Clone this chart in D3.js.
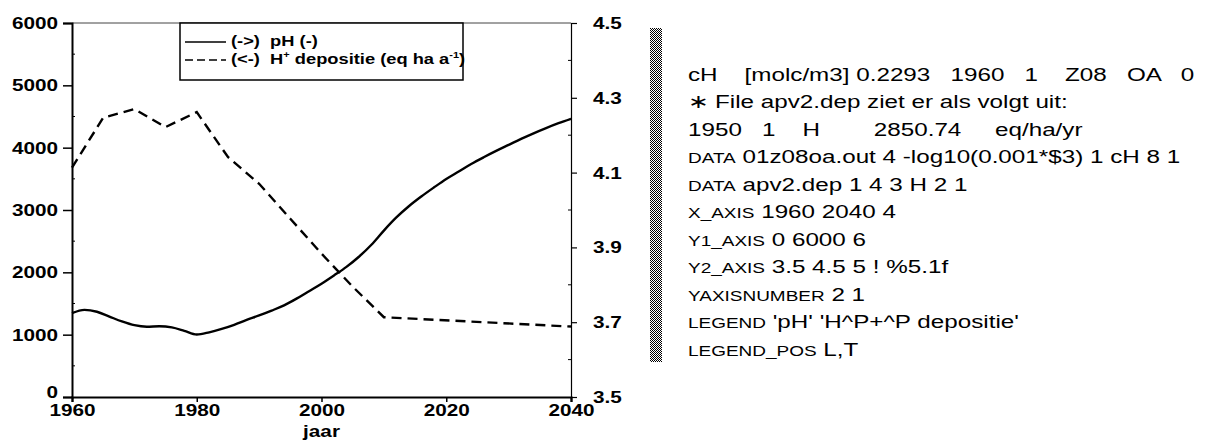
<!DOCTYPE html>
<html>
<head>
<meta charset="utf-8">
<script src="https://d3js.org/d3.v7.min.js"></script>
<style>
  html, body { margin: 0; padding: 0; background: #fff; }
  svg { display: block; }
  text { font-family: "Liberation Sans", Arial, sans-serif; fill: #000; }
</style>
</head>
<body>
<svg id="chart" width="1208" height="441"></svg>
<script>
// H+ deposition (left axis, eq ha-1 a-1)
const depYears  = [1960, 1965, 1970, 1975, 1980, 1985, 1990, 1995, 2000, 2005, 2010, 2040];
const depValues = [3680, 4480, 4620, 4330, 4570, 3850, 3420, 2860, 2300, 1770, 1280, 1130];

// pH of soil solution (right axis)
const phYears = d3.range(1960, 2041, 2);
const phValues = [3.724, 3.733, 3.728, 3.715, 3.702, 3.692, 3.688, 3.689, 3.686, 3.677,
                  3.667, 3.673, 3.682, 3.693, 3.706, 3.718, 3.731, 3.745, 3.763, 3.783,
                  3.803, 3.825, 3.848, 3.875, 3.907, 3.945, 3.980, 4.010, 4.036, 4.060,
                  4.083, 4.103, 4.123, 4.141, 4.158, 4.174, 4.190, 4.205, 4.219, 4.232, 4.244];

// axis ticks
const xTicks = [1960, 1980, 2000, 2020, 2040];
const yLeftTicks = [0, 1000, 2000, 3000, 4000, 5000, 6000];
const yRightTicks = [3.5, 3.7, 3.9, 4.1, 4.3, 4.5];

// legend entries
const legendLabels = ["(->)  pH (-)", "(<-)  H"];

// command file listing shown beside the graph
const listing = [
  [null, "cH    [molc/m3] 0.2293   1960   1    Z08   OA   0"],
  [null, "\u2217 File apv2.dep ziet er als volgt uit:"],
  [null, "1950   1    H        2850.74     eq/ha/yr"],
  ["DATA", " 01z08oa.out 4 -log10(0.001*$3) 1 cH 8 1"],
  ["DATA", " apv2.dep 1 4 3 H 2 1"],
  ["X_AXIS", " 1960 2040 4"],
  ["Y1_AXIS", " 0 6000 6"],
  ["Y2_AXIS", " 3.5 4.5 5 ! %5.1f"],
  ["YAXISNUMBER", " 2 1"],
  ["LEGEND", " 'pH' 'H^P+^P depositie'"],
  ["LEGEND_POS", " L,T"]
];

const SX = 1.22;              // glyphs are drawn a little wide
const SXT = 1.31;             // listing glyphs are wider still
const svg = d3.select("#chart");
const X0 = 72, X1 = 571, Y0 = 23, Y1 = 397;

const x = d3.scaleLinear().domain([1960, 2040]).range([X0, X1]);
const yL = d3.scaleLinear().domain([0, 6000]).range([Y1, Y0]);
const yR = d3.scaleLinear().domain([3.5, 4.5]).range([Y1, Y0]);

function stretch(sel) {
  sel.each(function () {
    const t = d3.select(this);
    const tx = +t.attr("x") || 0;
    t.attr("x", tx / SX).attr("transform", `scale(${SX},1)`);
  });
}

// top border (faint)
svg.append("line").attr("x1", X0).attr("x2", X1).attr("y1", Y0).attr("y2", Y0)
  .attr("stroke", "#444").attr("stroke-width", 1);

// left axis
const gL = svg.append("g").attr("transform", `translate(${X0},0)`)
  .call(d3.axisLeft(yL).tickValues(yLeftTicks).tickSize(9).tickPadding(5).tickFormat(d3.format("d")));
gL.select(".domain").attr("stroke-width", 2);
gL.selectAll(".tick line").attr("stroke-width", 1.5);
gL.selectAll(".tick text").attr("font-size", 17).attr("font-weight", "bold")
  .attr("font-family", "Liberation Sans, Arial, sans-serif").call(stretch);
gL.selectAll(".tick").filter(d => d === 0).select("text").attr("dy", "0.05em");

// right axis
const gR = svg.append("g").attr("transform", `translate(${X1},0)`)
  .call(d3.axisRight(yR).tickValues(yRightTicks).tickSize(6).tickPadding(16).tickFormat(d3.format(".1f")));
gR.select(".domain").attr("stroke-width", 1.2);
gR.selectAll(".tick line").attr("stroke-width", 1.2);
gR.selectAll(".tick text").attr("font-size", 17).attr("font-weight", "bold")
  .attr("font-family", "Liberation Sans, Arial, sans-serif").call(stretch);

// bottom axis
const gB = svg.append("g").attr("transform", `translate(0,${Y1})`)
  .call(d3.axisBottom(x).tickValues(xTicks).tickSize(5).tickPadding(2).tickFormat(d3.format("d")));
gB.select(".domain").attr("stroke-width", 2.2);
gB.selectAll(".tick line").attr("stroke-width", 1.5);
gB.selectAll(".tick text").attr("font-size", 17).attr("font-weight", "bold")
  .attr("font-family", "Liberation Sans, Arial, sans-serif").call(stretch);

// minor ticks
const minorL = d3.range(500, 6000, 1000);
svg.append("g").selectAll("line").data(minorL).join("line")
  .attr("x1", X0).attr("x2", X0 + 3).attr("y1", d => yL(d)).attr("y2", d => yL(d))
  .attr("stroke", "#000").attr("stroke-width", 1);
const minorR = [3.6, 3.8, 4.0, 4.2, 4.4];
svg.append("g").selectAll("line").data(minorR).join("line")
  .attr("x1", X1 - 3).attr("x2", X1).attr("y1", d => yR(d)).attr("y2", d => yR(d))
  .attr("stroke", "#000").attr("stroke-width", 1);

// x axis title
svg.append("text").attr("transform", `translate(${x(2000)},437) scale(${SX},1)`)
  .attr("text-anchor", "middle").attr("font-size", 17).attr("font-weight", "bold").text("jaar");

// deposition (dashed, left axis)
const depLine = d3.line().x(d => x(d[0])).y(d => yL(d[1]));
svg.append("path").datum(depYears.map((yr, i) => [yr, depValues[i]]))
  .attr("d", depLine).attr("fill", "none").attr("stroke", "#000")
  .attr("stroke-width", 2.4).attr("stroke-dasharray", "10,6");

// pH (solid, right axis)
const phLine = d3.line().curve(d3.curveMonotoneX).x(d => x(d[0])).y(d => yR(d[1]));
svg.append("path").datum(phYears.map((yr, i) => [yr, phValues[i]]))
  .attr("d", phLine).attr("fill", "none").attr("stroke", "#000").attr("stroke-width", 2.4);

// legend box
const LX = 180, LY = 23, LW = 283, LH = 57;
svg.append("rect").attr("x", LX).attr("y", LY).attr("width", LW).attr("height", LH)
  .attr("fill", "#fff").attr("stroke", "#000").attr("stroke-width", 1.5);
const rows = [46, 64];
svg.append("line").attr("x1", LX + 5).attr("x2", LX + 46).attr("y1", rows[0] - 4).attr("y2", rows[0] - 4)
  .attr("stroke", "#000").attr("stroke-width", 1.5);
svg.append("line").attr("x1", LX + 5).attr("x2", LX + 46).attr("y1", rows[1] - 4).attr("y2", rows[1] - 4)
  .attr("stroke", "#000").attr("stroke-width", 1.5).attr("stroke-dasharray", "8,4");
svg.append("text").attr("transform", `translate(${LX + 51},${rows[0]}) scale(${SX},1)`)
  .attr("font-size", 15).attr("font-weight", "bold").style("white-space", "pre").text(legendLabels[0]);
const t2 = svg.append("text").attr("transform", `translate(${LX + 51},${rows[1]}) scale(${SX},1)`)
  .attr("font-size", 15).attr("font-weight", "bold").style("white-space", "pre");
t2.append("tspan").text(legendLabels[1]);
t2.append("tspan").attr("font-size", 9).attr("dy", -6).text("+");
t2.append("tspan").attr("dy", 6).text(" depositie (eq ha a");
t2.append("tspan").attr("font-size", 9).attr("dy", -6).text("-1");
t2.append("tspan").attr("dy", 6).text(")");

// checkered separator strip
const defs = svg.append("defs");
const pat = defs.append("pattern").attr("id", "checker").attr("patternUnits", "userSpaceOnUse")
  .attr("width", 2).attr("height", 2);
pat.append("rect").attr("width", 2).attr("height", 2).attr("fill", "#fff");
pat.append("rect").attr("width", 1).attr("height", 1).attr("fill", "#000");
pat.append("rect").attr("x", 1).attr("y", 1).attr("width", 1).attr("height", 1).attr("fill", "#000");
svg.append("rect").attr("x", 650).attr("y", 28).attr("width", 12).attr("height", 334)
  .attr("fill", "url(#checker)");

// listing text
const TX = 688, TY = 80.5, LS = 27.5;
listing.forEach((ln, i) => {
  const t = svg.append("text").attr("transform", `translate(${TX},${TY + i * LS}) scale(${SXT},1)`)
    .attr("font-size", 18.5).style("white-space", "pre");
  if (ln[0]) t.append("tspan").attr("font-size", 14.5).text(ln[0]);
  t.append("tspan").text(ln[1]);
});
</script>
</body>
</html>
